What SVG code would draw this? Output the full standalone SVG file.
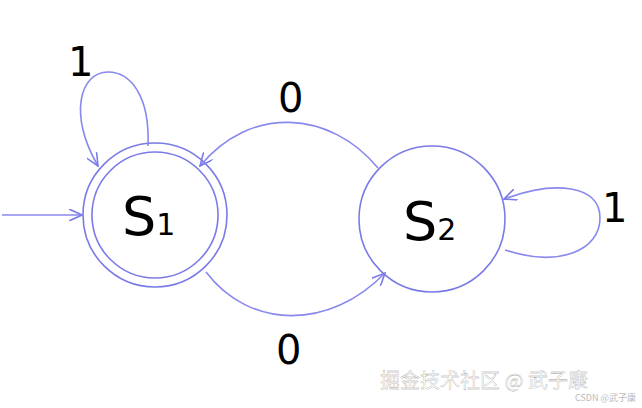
<svg xmlns="http://www.w3.org/2000/svg" width="642" height="408" viewBox="0 0 642 408">
<style>
.c{fill:none;stroke:#7b7be8;stroke-width:1.6}
.l{fill:none;stroke:#8888ee;stroke-width:1.6}
.t{font-family:"DejaVu Sans",sans-serif;fill:#000}
</style>
<defs><marker id="a" markerWidth="14" markerHeight="12" refX="13" refY="6" orient="auto" markerUnits="userSpaceOnUse"><path d="M0,0 L13,6 L0,12" fill="none" stroke="#7b7be8" stroke-width="1.6"/></marker></defs>
<rect width="642" height="408" fill="#fff"/>
<g id="S1"><circle class="c" cx="155" cy="215" r="72"/><circle class="c" cx="155" cy="215" r="63"/><text class="t" x="122" y="235" font-size="54">S<tspan font-size="30">1</tspan></text></g>
<g id="S2"><circle class="c" cx="432" cy="219" r="73"/><text class="t" x="403" y="240" font-size="54">S<tspan font-size="30">2</tspan></text></g>
<g id="connectors">
<path class="l" d="M2,215 L82,215" marker-end="url(#a)"/>
<path class="l" d="M148,146 C150,95 130,72 108,72 C80,72 68,115 98,166" marker-end="url(#a)"/>
<path class="l" d="M378,168 C330,110 250,105 200,166" marker-end="url(#a)"/>
<path class="l" d="M206,272 C250,330 330,330 385,273" marker-end="url(#a)"/>
<path class="l" d="M505,250 C560,268 600,250 600,218 C600,185 555,180 504,199" marker-end="url(#a)"/>
</g>
<text class="t" x="68" y="76" font-size="40">1</text>
<text class="t" x="278" y="112" font-size="40">0</text>
<text class="t" x="276" y="364" font-size="40">0</text>
<text class="t" x="602" y="222" font-size="40">1</text>
<text x="380" y="388" font-size="20" fill="#ffffff" stroke="#999" stroke-width="0.3" font-family="'Noto Sans CJK SC',sans-serif">掘金技术社区 @ 武子康</text>
<text x="636" y="401" text-anchor="end" font-size="9" fill="#bbb" font-family="'Noto Sans CJK SC',sans-serif">CSDN @武子康</text>
</svg>
